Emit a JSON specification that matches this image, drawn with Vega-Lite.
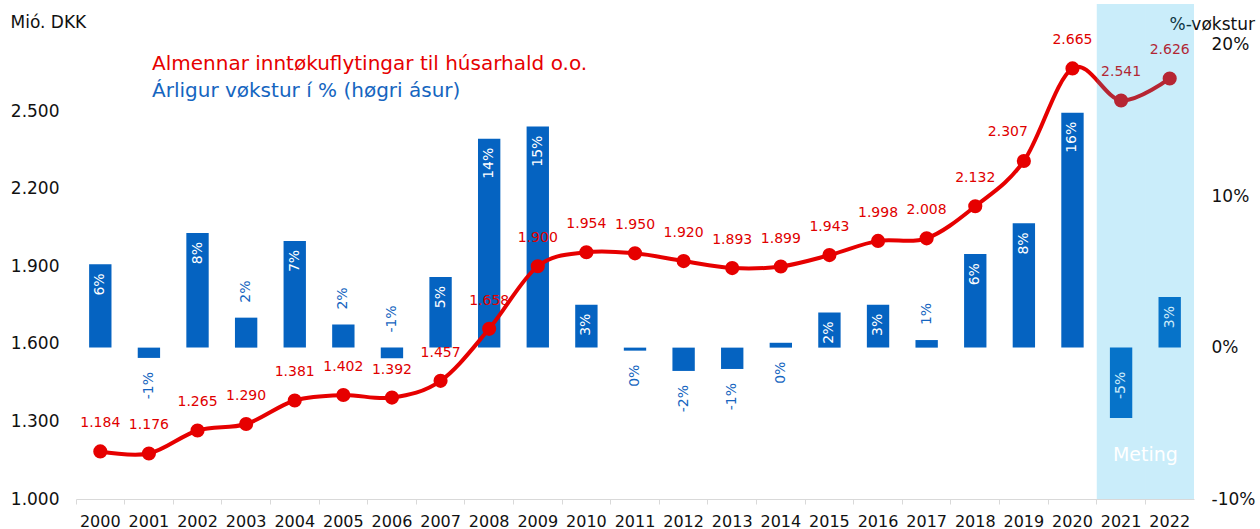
{
  "$schema": "https://vega.github.io/schema/vega-lite/v6.json",
  "width": 1118,
  "height": 495,
  "autosize": {"type": "none"},
  "padding": {"left": 76, "top": 4, "right": 66, "bottom": 30},
  "background": "white",
  "config": {"view": {"stroke": null}, "font": "DejaVu Sans", "axis": {"grid": false}},
  "title": {
    "text": "Almennar inntøkuflytingar til húsarhald o.o.",
    "subtitle": "Árligur vøkstur í % (høgri ásur)",
    "anchor": "start",
    "frame": "group",
    "orient": "top",
    "offset": -97,
    "dx": 76,
    "font": "DejaVu Sans",
    "fontSize": 20,
    "fontWeight": "normal",
    "color": "#e60000",
    "subtitleFont": "DejaVu Sans",
    "subtitleFontSize": 20,
    "subtitleColor": "#1565c0",
    "subtitlePadding": 7
  },
  "data": {
    "values": [
      {"year": "2000", "v": 1184, "g": 5.5, "lp": "in", "fc": false},
      {"year": "2001", "v": 1176, "g": -0.68, "lp": "dn", "fc": false},
      {"year": "2002", "v": 1265, "g": 7.57, "lp": "in", "fc": false},
      {"year": "2003", "v": 1290, "g": 1.98, "lp": "up", "fc": false},
      {"year": "2004", "v": 1381, "g": 7.05, "lp": "in", "fc": false},
      {"year": "2005", "v": 1402, "g": 1.52, "lp": "up", "fc": false},
      {"year": "2006", "v": 1392, "g": -0.71, "lp": "up", "fc": false},
      {"year": "2007", "v": 1457, "g": 4.67, "lp": "in", "fc": false},
      {"year": "2008", "v": 1658, "g": 13.8, "lp": "in", "fc": false},
      {"year": "2009", "v": 1900, "g": 14.6, "lp": "in", "fc": false},
      {"year": "2010", "v": 1954, "g": 2.84, "lp": "in", "fc": false},
      {"year": "2011", "v": 1950, "g": -0.2, "lp": "dn", "fc": false},
      {"year": "2012", "v": 1920, "g": -1.54, "lp": "dn", "fc": false},
      {"year": "2013", "v": 1893, "g": -1.41, "lp": "dn", "fc": false},
      {"year": "2014", "v": 1899, "g": 0.32, "lp": "dn", "fc": false},
      {"year": "2015", "v": 1943, "g": 2.32, "lp": "in", "fc": false},
      {"year": "2016", "v": 1998, "g": 2.83, "lp": "in", "fc": false},
      {"year": "2017", "v": 2008, "g": 0.5, "lp": "up", "fc": false},
      {"year": "2018", "v": 2132, "g": 6.18, "lp": "in", "fc": false},
      {"year": "2019", "v": 2307, "g": 8.21, "lp": "in", "fc": false},
      {"year": "2020", "v": 2665, "g": 15.52, "lp": "in", "fc": false},
      {"year": "2021", "v": 2541, "g": -4.65, "lp": "in", "fc": true},
      {"year": "2022", "v": 2626, "g": 3.35, "lp": "in", "fc": true}
    ]
  },
  "transform": [
    {"calculate": "toString(round(datum.g) || 0) + '%'", "as": "glab"},
    {"calculate": "replace(format(datum.v, ','), ',', '.')", "as": "vlab"},
    {"calculate": "max(datum.g, 0)", "as": "gtop"},
    {"calculate": "min(datum.g, 0)", "as": "gbot"}
  ],
  "layer": [
    {
      "encoding": {
        "x": {
          "field": "year", "type": "ordinal",
          "scale": {"paddingInner": 0, "paddingOuter": 0},
          "axis": {"orient": "bottom", "title": null, "labelFontSize": 16, "labelColor": "#111111", "labelPadding": 14, "labelAngle": 0, "ticks": false, "domain": true, "domainColor": "#d9d9d9", "domainWidth": 1}
        }
      },
      "layer": [
        {
          "mark": {"type": "bar", "color": "#0563C1", "width": {"band": 0.46}},
          "encoding": {
            "y": {
              "field": "g", "type": "quantitative",
              "scale": {"domain": [-10, 22.7], "nice": false, "zero": false},
              "axis": {"orient": "right", "values": [-10, 0, 10, 20], "labelExpr": "toString(datum.value) + '%'", "title": "%-vøkstur", "titleAngle": 0, "titleX": -25, "titleY": 20, "titleAlign": "left", "titleBaseline": "middle", "titleFontSize": 17, "titleFontWeight": "normal", "titleColor": "#111111", "labelFontSize": 17, "labelColor": "#111111", "labelPadding": 17, "ticks": false, "domain": false}
            }
          }
        },
        {
          "transform": [{"filter": "datum.lp == 'in' && datum.g > 0"}],
          "mark": {"type": "text", "angle": 270, "align": "right", "baseline": "middle", "dx": -9, "color": "white", "fontSize": 14},
          "encoding": {"y": {"field": "g", "type": "quantitative"}, "text": {"field": "glab"}}
        },
        {
          "transform": [{"filter": "datum.lp == 'in' && datum.g < 0"}],
          "mark": {"type": "text", "angle": 270, "align": "left", "baseline": "middle", "dx": 19, "color": "white", "fontSize": 14},
          "encoding": {"y": {"field": "g", "type": "quantitative"}, "text": {"field": "glab"}}
        },
        {
          "transform": [{"filter": "datum.lp == 'up'"}],
          "mark": {"type": "text", "angle": 270, "align": "left", "baseline": "middle", "dx": 15, "color": "#1565c0", "fontSize": 14},
          "encoding": {"y": {"field": "gtop", "type": "quantitative"}, "text": {"field": "glab"}}
        },
        {
          "transform": [{"filter": "datum.lp == 'dn'"}],
          "mark": {"type": "text", "angle": 270, "align": "right", "baseline": "middle", "dx": -14, "color": "#1565c0", "fontSize": 14},
          "encoding": {"y": {"field": "gbot", "type": "quantitative"}, "text": {"field": "glab"}}
        }
      ]
    },
    {
      "encoding": {
        "x": {
          "field": "year", "type": "ordinal",
          "axis": {"orient": "bottom", "title": null, "labels": false, "ticks": true, "tickSize": 5, "tickColor": "#d9d9d9", "bandPosition": 0, "domain": false}
        }
      },
      "layer": [
        {
          "mark": {"type": "line", "color": "#e60000", "strokeWidth": 4, "interpolate": "cardinal"},
          "encoding": {
            "y": {
              "field": "v", "type": "quantitative",
              "scale": {"domain": [1000, 2914], "nice": false, "zero": false},
              "axis": {"orient": "left", "values": [1000, 1300, 1600, 1900, 2200, 2500], "labelExpr": "replace(format(datum.value, ','), ',', '.')", "title": "Mió. DKK", "titleAngle": 0, "titleX": -66, "titleY": 18, "titleAlign": "left", "titleBaseline": "middle", "titleFontSize": 17, "titleFontWeight": "normal", "titleColor": "#111111", "labelFontSize": 17, "labelColor": "#111111", "labelPadding": 17, "ticks": false, "domain": false}
            }
          }
        },
        {
          "mark": {"type": "point", "filled": true, "color": "#e60000", "size": 200, "opacity": 1},
          "encoding": {"y": {"field": "v", "type": "quantitative"}}
        },
        {
          "transform": [{"filter": "datum.year != '2019'"}],
          "mark": {"type": "text", "color": "#e00000", "fontSize": 14, "dy": -28, "baseline": "middle"},
          "encoding": {"y": {"field": "v", "type": "quantitative"}, "text": {"field": "vlab"}}
        },
        {
          "transform": [{"filter": "datum.year == '2019'"}],
          "mark": {"type": "text", "color": "#e00000", "fontSize": 14, "dy": -29, "dx": -16, "baseline": "middle"},
          "encoding": {"y": {"field": "v", "type": "quantitative"}, "text": {"field": "vlab"}}
        },
        {
          "transform": [{"filter": "datum.fc"}],
          "mark": {"type": "rect", "color": "#0eade8", "opacity": 0.22}
        },
        {
          "transform": [{"filter": "datum.year == '2022'"}],
          "mark": {"type": "text", "color": "white", "fontSize": 19, "align": "center", "baseline": "middle"},
          "encoding": {
            "x": {"field": "year", "type": "ordinal", "bandPosition": 0},
            "y": {"datum": 1170, "type": "quantitative"},
            "text": {"value": "Meting"}
          }
        }
      ]
    }
  ],
  "resolve": {"scale": {"y": "independent"}, "axis": {"x": "independent"}}
}
